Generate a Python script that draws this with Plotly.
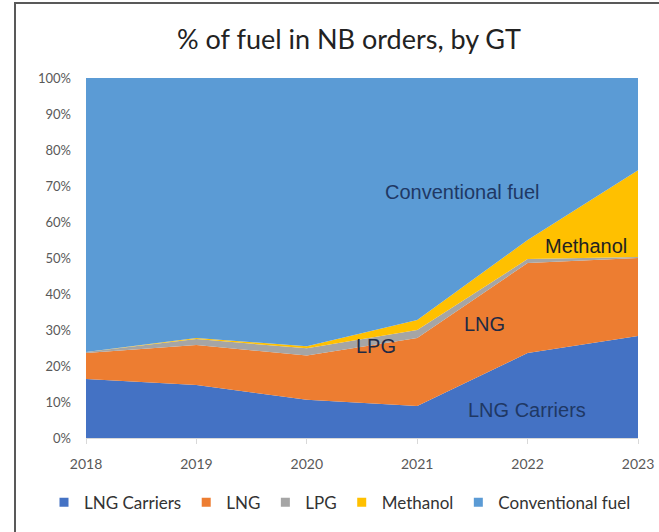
import plotly.graph_objects as go

years = [2018, 2019, 2020, 2021, 2022, 2023]
lng_carriers = [16.4, 14.7, 10.6, 8.9, 23.6, 28.3]
lng = [7.2, 11.1, 12.3, 18.9, 25.0, 21.7]
lpg = [0.3, 1.7, 2.0, 2.2, 1.1, 0.3]
methanol = [0.0, 0.3, 0.6, 2.8, 5.3, 24.1]
conventional = [76.1, 72.2, 74.5, 67.2, 45.0, 25.6]

series = [
    ("LNG Carriers", lng_carriers, "#4472C4"),
    ("LNG", lng, "#ED7D31"),
    ("LPG", lpg, "#A5A5A5"),
    ("Methanol", methanol, "#FFC000"),
    ("Conventional fuel", conventional, "#5B9BD5"),
]

fig = go.Figure()
for name, vals, col in series:
    fig.add_trace(go.Scatter(
        x=years, y=vals, name=name, mode="lines",
        stackgroup="one", line=dict(width=0, color=col),
        fillcolor=col, showlegend=False,
    ))
# square legend keys
for name, vals, col in series:
    fig.add_trace(go.Scatter(
        x=[None], y=[None], name=name, mode="markers",
        marker=dict(symbol="square", size=9, color=col),
    ))

# in-chart labels
labels = [
    ("Conventional fuel", 2021.41, 68.3, "#1F3864"),
    ("Methanol", 2022.53, 53.3, "#222222"),
    ("LPG", 2020.63, 25.6, "#1F2A44"),
    ("LNG", 2021.61, 31.7, "#1F2A44"),
    ("LNG Carriers", 2021.99, 7.8, "#1F3864"),
]
for txt, x, y, c in labels:
    fig.add_annotation(x=x, y=y, text=txt, showarrow=False,
                       font=dict(family="Liberation Sans", size=20, color=c))

# chart frame
fig.add_shape(type="rect", xref="paper", yref="paper",
              x0=(15 - 86) / 552, x1=1.1, y0=-0.4, y1=(438 - 3) / 360,
              line=dict(color="#595959", width=2))

fig.update_layout(
    title=dict(text="% of fuel in NB orders, by GT", x=349 / 659, xanchor="center",
               y=1 - 40 / 532, yanchor="middle",
               font=dict(family="Lato", size=27, color="#222222")),
    width=659, height=532,
    margin=dict(l=86, r=21, t=78, b=94, autoexpand=False),
    paper_bgcolor="white", plot_bgcolor="white",
    font=dict(family="Lato", color="#595959"),
    showlegend=True,
    legend=dict(orientation="h", x=(44 - 86) / 552, xanchor="left",
                y=-0.18, yanchor="middle",
                font=dict(size=17, color="#333333"), traceorder="normal",
                itemwidth=30),
)
fig.update_xaxes(range=[2018, 2023], tickvals=years, showgrid=False,
                 ticks="outside", ticklen=5, tickcolor="#D9D9D9",
                 showline=True, linecolor="#D9D9D9", tickfont=dict(size=14),
                 ticklabelstandoff=8)
fig.update_yaxes(range=[0, 100], tickvals=list(range(0, 101, 10)),
                 ticktext=[f"{v}%" for v in range(0, 101, 10)],
                 showgrid=False, zeroline=False, tickfont=dict(size=13),
                 ticklabelstandoff=14)

fig.write_html("out.html", config={"displayModeBar": False},
               post_script="document.body.style.margin='0';")
